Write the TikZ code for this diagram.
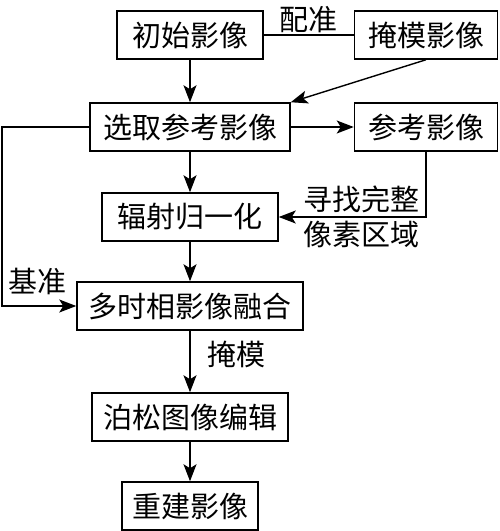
\documentclass[tikz,border=0pt]{standalone}
\usepackage{fontspec}
\newfontfamily\cjk{Noto Sans CJK SC}
\usetikzlibrary{arrows.meta}

\tikzset{
  box/.style={draw, line width=1.5pt, minimum height=48pt, inner sep=0pt},
  arr/.style={line width=1.4pt, -{Stealth[length=17pt, width=13pt, inset=4pt]}},
  lbl/.style={inner sep=3pt}
}

\begin{document}
\begin{tikzpicture}[x=1pt, y=-1pt, font=\cjk\fontsize{29}{32}\selectfont]
        \useasboundingbox (0,0) rectangle (500,531);

        \node[box, minimum width=146pt] (init) at (190,35) {初始影像};
        \node[box, minimum width=143pt] (mask) at (426,35) {掩模影像};
        \node[box, minimum width=200pt] (select) at (190,127) {选取参考影像};
        \node[box, minimum width=143pt] (ref) at (426,127) {参考影像};
        \node[box, minimum width=176pt] (norm) at (190,217) {辐射归一化};
        \node[box, minimum width=226pt] (fuse) at (190,306) {多时相影像融合};
        \node[box, minimum width=196pt] (poisson) at (190,417) {泊松图像编辑};
        \node[box, minimum width=136pt] (recon) at (190,506) {重建影像};
        \coordinate (lft) at (2,0);

        \path (init) edge[line width=1.4pt] node[lbl, above, yshift=-2pt] {配准} (mask);
        \draw[arr] (mask.south) -- (select.north east);
        \draw[arr] (init) -- (select);
        \draw[arr] (select) -- (ref);
        \draw[arr] (select) -- (norm);
        \draw[arr] (ref.south) |- node[lbl, pos=0.72, above] {寻找完整}
                                  node[lbl, pos=0.72, below] {像素区域} (norm.east);
        \draw[arr] (norm) -- (fuse);
        \draw[arr] (select.west) -- (select.west -| lft) |- (fuse.west);
        \node[lbl] (base) at (38,281) {基准};
        \draw[arr] (fuse) -- node[lbl, right, xshift=14pt, yshift=7pt] {掩模} (poisson);
        \draw[arr] (poisson) -- (recon);
      \end{tikzpicture}
\end{document}
